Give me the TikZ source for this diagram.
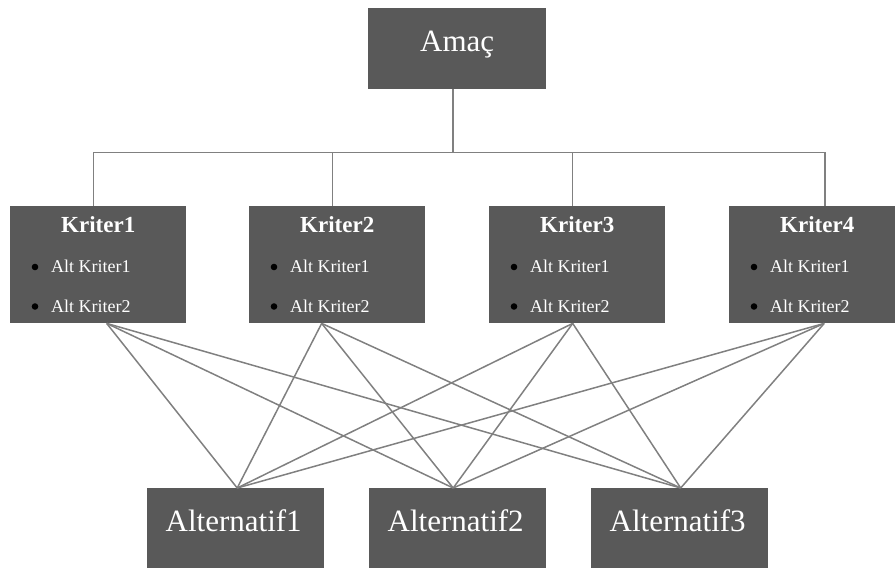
\documentclass[tikz,border=0pt]{standalone}
\usepackage{fontspec}
\setmainfont{Liberation Serif}
\usetikzlibrary{calc}
\definecolor{boxgray}{HTML}{595959}
\definecolor{linegray}{HTML}{808080}
\begin{document}
\begin{tikzpicture}[x=1pt,y=-1pt,
  box/.style={fill=boxgray, draw=none, inner sep=0pt, anchor=north west},
  link/.style={draw=linegray, line width=1.5pt},
  big/.style={text=white, font=\fontsize{31}{31}\selectfont, anchor=base, inner sep=0pt},
  ktitle/.style={text=white, font=\bfseries\fontsize{23}{23}\selectfont, anchor=base, inner sep=0pt},
  kitem/.style={text=white, font=\fontsize{18}{18}\selectfont, anchor=base west, inner sep=0pt},
]
\useasboundingbox (0,0) rectangle (895,568);
\clip (0,0) rectangle (895,568);

% goal
\node[box, minimum width=178pt, minimum height=81pt] (amac) at (368,8) {};
\node[big] (amact) at ($(amac.north)+(0,43)$) {Amaç};

% criteria
\foreach \i/\x in {1/10,2/249,3/489,4/729} {
  \node[box, minimum width=176pt, minimum height=117pt] (k\i) at (\x,206) {};
  \node[ktitle] (k\i t) at ($(k\i.north)+(0,26)$) {Kriter\i};
  \fill[black] ($(k\i.north west)+(25,61)$) circle (3.3);
  \node[kitem] (k\i a) at ($(k\i.north west)+(41,66)$) {Alt Kriter1};
  \fill[black] ($(k\i.north west)+(25,100.5)$) circle (3.3);
  \node[kitem] (k\i b) at ($(k\i.north west)+(41,106)$) {Alt Kriter2};
}

% alternatives
\foreach \j/\x in {1/147,2/369,3/591} {
  \node[box, minimum width=177pt, minimum height=82pt] (a\j) at (\x,488) {};
  \node[big] (a\j t) at ($(a\j.north)+(-2,43)$) {Alternatif\j};
}

% tree connectors
\draw[link] ($(amac.south)+(-4,0)$) -- ++(0,63.7);
\draw[link] ($(k1.north)+(-4.5,0)$) |- ($(k4.north)+(8,-53.3)$) -- ($(k4.north)+(8,0)$);
\draw[link] ($(k2.north)+(-4.5,0)$) -- ++(0,-53.3);
\draw[link] ($(k3.north)+(-4.5,0)$) -- ++(0,-53.3);

% criteria to alternatives
\foreach \i/\dx in {1/8.5,2/-15.5,3/-4.5,4/7}
  \foreach \j/\dy in {1/1.5,2/-4.5,3/1}
    \draw[link] ($(k\i.south)+(\dx,0)$) -- ($(a\j.north)+(\dy,0)$);
\end{tikzpicture}
\end{document}
